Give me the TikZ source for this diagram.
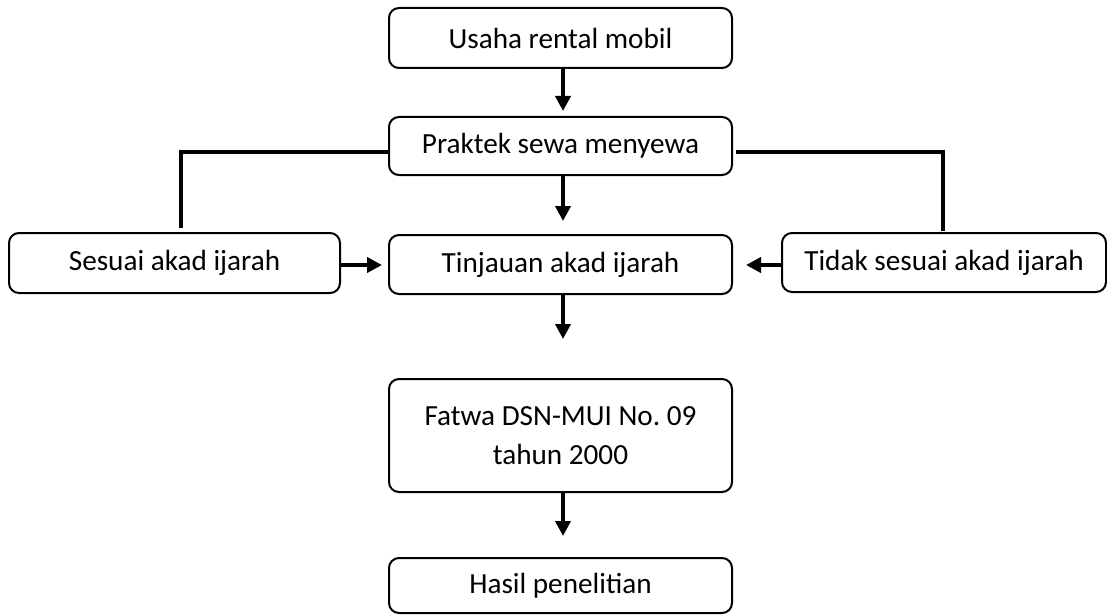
\documentclass[tikz,border=0pt]{standalone}
\usepackage{fontspec}
\setmainfont{Carlito}
\usetikzlibrary{arrows.meta}
\frenchspacing
\begin{document}
\begin{tikzpicture}[x=1pt,y=-1pt,
  box/.style={draw=black, line width=2pt, rounded corners=10pt, inner sep=0pt,
    align=center, font=\fontsize{29.2}{39}\selectfont, text=black},
  conn/.style={line width=4pt, draw=black},
  arr/.style={conn, -{Triangle[length=15pt,width=15pt]}}]
\useasboundingbox (0,0) rectangle (1107,615);
\node[box, minimum width=343pt, minimum height=60pt] (usaha) at (560.5,38) {Usaha rental mobil};
\node[box, minimum width=343pt, minimum height=58pt] (praktek) at (560.5,146) {Praktek sewa menyewa};
\node[box, minimum width=343pt, minimum height=59pt] (tinjau) at (560.5,264.5) {Tinjauan akad ijarah};
\node[box, minimum width=331pt, minimum height=60pt] (sesuai) at (174.5,263) {Sesuai akad ijarah};
\node[box, minimum width=324pt, minimum height=59pt] (tidak) at (944,262.5) {Tidak sesuai akad ijarah};
\node[box, minimum width=343pt, minimum height=113pt] (fatwa) at (560.5,435.5) {Fatwa DSN-MUI No.\ 09\\tahun 2000};
\node[box, minimum width=343pt, minimum height=55pt] (hasil) at (560.5,585.5) {Hasil penelitian};
% vertical arrows
\draw[arr, shorten >=5pt] ([xshift=2.5pt]usaha.south) -- ([xshift=2.5pt]praktek.north);
\draw[arr, shorten >=13pt] ([xshift=2.5pt]praktek.south) -- ([xshift=2.5pt]tinjau.north);
\draw[arr, shorten >=39pt] ([xshift=2.5pt]tinjau.south) -- ([xshift=2.5pt]fatwa.north);
\draw[arr, shorten >=21pt] ([xshift=2.5pt]fatwa.south) -- ([xshift=2.5pt]hasil.north);
% branches
\draw[conn] ([yshift=-6pt]praktek.west) -| ([xshift=6.5pt,yshift=4pt]sesuai.north);
\draw[conn] ([xshift=3pt,yshift=-6pt]praktek.east) -| ([xshift=-1pt,yshift=1pt]tidak.north);
% horizontal arrows
\draw[arr, shorten >=6pt] ([yshift=-2pt]sesuai.east) -- ([yshift=-2pt]sesuai.east -| tinjau.west);
\draw[arr, shorten >=13pt] ([yshift=-2.5pt]tidak.west) -- ([yshift=-2.5pt]tidak.west -| tinjau.east);
\end{tikzpicture}
\end{document}
